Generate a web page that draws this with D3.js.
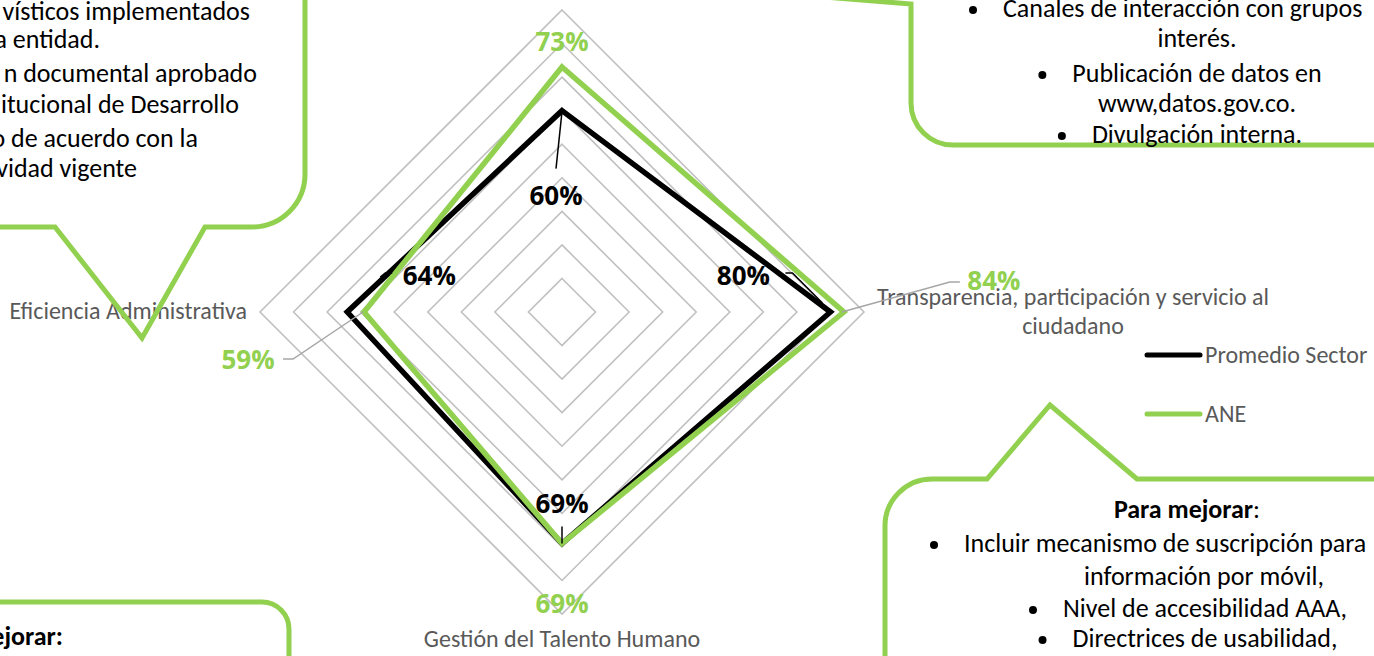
<!DOCTYPE html>
<html><head><meta charset="utf-8">
<script src="https://cdn.jsdelivr.net/npm/d3@7"></script>
<style>
html,body{margin:0;padding:0;background:#fff;overflow:hidden}
svg{display:block}
text{font-family: Carlito, Calibri, Lato, sans-serif}
text.dl{font-family: 'Open Sans', Lato, sans-serif; font-weight: bold; font-size: 26px}
</style></head><body>
<svg id="c" width="1374" height="656"></svg>
<script>
// ---------- data ----------
const categories = ["Gestión Misional y de Gobierno", "Transparencia, participación y servicio al ciudadano", "Gestión del Talento Humano", "Eficiencia Administrativa"];
const seriesNames = ["Promedio Sector", "ANE"];
const promedioSector = [0.60, 0.80, 0.69, 0.64];
const ane = [0.73, 0.84, 0.69, 0.59];
const ringTicks = [0.1, 0.2, 0.3, 0.4, 0.5, 0.6, 0.7, 0.8, 0.9];
const topLeftLines = ["vísticos implementados", "a entidad.", "n documental aprobado", "itucional de Desarrollo", "o de acuerdo con la", "vidad vigente"];
const topRightLines = ["Canales de interacción con grupos", "interés.", "Publicación de datos en", "www,datos.gov.co.", "Divulgación interna."];
const bottomRightTitle = ["Para mejorar", ":"];
const bottomRightLines = ["Incluir mecanismo de suscripción para", "información por móvil,", "Nivel de accesibilidad AAA,", "Directrices de usabilidad,"];
const bottomLeftTitle = "ejorar:";

// ---------- style ----------
const GREEN = "#92D050", GREY_TXT = "#595959", GRID = "#C0C0C0";
const svg = d3.select("#c");
const cx = 562, cy = 312, R = 302;
const r = d3.scaleLinear().domain([0, 0.9]).range([0, R]);
const ang = d3.scaleLinear().domain([0, categories.length]).range([0, 2 * Math.PI]);
const pt = (i, v) => [cx + r(v) * Math.sin(ang(i)), cy - r(v) * Math.cos(ang(i))];

const g = svg.append("g");
// grid rings
const ringLine = d3.lineRadial().angle((d, i) => ang(i)).radius(d => r(d)).curve(d3.curveLinearClosed);
g.selectAll("path.ring").data(ringTicks).join("path")
  .attr("class", "ring")
  .attr("transform", `translate(${cx},${cy})`)
  .attr("d", t => ringLine(categories.map(() => t)))
  .attr("fill", "none").attr("stroke", GRID).attr("stroke-width", 1.6);

// axis labels
const axisFont = 24;
const axLab = svg.append("g").attr("fill", GREY_TXT).style("font-size", axisFont + "px");
// top label (off canvas)
axLab.append("text").attr("x", cx).attr("y", -14).attr("text-anchor", "middle").text(categories[0]);
const tr = axLab.append("text").attr("text-anchor", "middle");
tr.append("tspan").attr("x", 1073).attr("y", 305).text("Transparencia, participación y servicio al");
tr.append("tspan").attr("x", 1073).attr("y", 334).text("ciudadano");
axLab.append("text").attr("x", cx).attr("y", 647).attr("text-anchor", "middle").text(categories[2]);
axLab.append("text").attr("x", 247).attr("y", 319).attr("text-anchor", "end").text(categories[3]);

// series
const seriesData = [promedioSector, ane];
const seriesColors = ["#000000", GREEN];
seriesData.forEach((vals, s) => {
  g.append("path")
    .attr("transform", `translate(${cx},${cy})`)
    .attr("d", ringLine.radius(d => r(d))(vals))
    .attr("fill", "none").attr("stroke", seriesColors[s]).attr("stroke-width", 5.5)
    .attr("stroke-linejoin", "miter");
});

// data labels: layout offsets (label anchor relative to point, leader polyline relative)
const labels = svg.append("g").attr("text-anchor", "middle");
const fmt = d3.format(".0%");
const blackLayout = [
  {dx: -6, dy: 94, leader: [[0, 1], [-6, 58]]},
  {dx: -87, dy: -27, leader: [[-45, -39], [-38, -39], [-8, -9]]},
  {dx: 0, dy: -31, leader: [[0, -17], [0, 0]]},
  {dx: 82, dy: -27.5, leader: [[33, -35], [38, -39], [45, -39]]}
];
const greenLayout = [
  {dx: 0, dy: -16, leader: null},
  {dx: 150, dy: -22, leader: [[-2, 0], [106, -30], [116, -30]]},
  {dx: 0, dy: 69, leader: null},
  {dx: -116, dy: 57, leader: [[-81, 47], [-71, 47], [-1, 0]]}
];
function drawLabels(vals, layout, color, leaderColor) {
  vals.forEach((v, i) => {
    const [x, y] = pt(i, v);
    const L = layout[i];
    if (L.leader) {
      svg.append("path").attr("d", d3.line()(L.leader.map(p => [x + p[0], y + p[1]])))
        .attr("fill", "none").attr("stroke", leaderColor).attr("stroke-width", 1.5);
    }
    labels.append("text").attr("class", "dl").attr("x", x + L.dx).attr("y", y + L.dy).attr("fill", color).text(fmt(v));
  });
}
drawLabels(promedioSector, blackLayout, "#000", "#000");
drawLabels(ane, greenLayout, GREEN, "#A6A6A6");

// legend
const leg = svg.append("g");
seriesNames.forEach((n, i) => {
  const y = 355 + i * 59;
  leg.append("line").attr("x1", 1147).attr("x2", 1200).attr("y1", y).attr("y2", y)
    .attr("stroke", seriesColors[i]).attr("stroke-width", 5).attr("stroke-linecap", "round");
  leg.append("text").attr("x", 1205).attr("y", y + 8).attr("fill", GREY_TXT).style("font-size", "24px").text(n);
});

// ---------- callouts ----------
const co = svg.append("g").attr("fill", "none").attr("stroke", GREEN).attr("stroke-width", 5).attr("stroke-linejoin", "miter");
// top-left
{
  const p = d3.path();
  p.moveTo(305, -20); p.lineTo(305, 227 - 53); p.arcTo(305, 227, 305 - 53, 227, 53);
  p.lineTo(205, 227); p.lineTo(142, 338); p.lineTo(55, 227); p.lineTo(-20, 227);
  co.append("path").attr("d", p.toString());
}
// top-right
{
  const p = d3.path();
  p.moveTo(700, -13); p.lineTo(911, 4); p.lineTo(911, 145 - 42); p.arcTo(911, 145, 911 + 42, 145, 42);
  p.lineTo(1400, 145);
  co.append("path").attr("d", p.toString());
}
// bottom-right
{
  const p = d3.path();
  p.moveTo(1400, 479); p.lineTo(1137, 479); p.lineTo(1050, 405); p.lineTo(987, 479);
  p.lineTo(885 + 47, 479); p.arcTo(885, 479, 885, 479 + 47, 47); p.lineTo(885, 700);
  co.append("path").attr("d", p.toString());
}
// bottom-left
{
  const p = d3.path();
  p.moveTo(-20, 602); p.lineTo(289 - 27, 602); p.arcTo(289, 602, 289, 602 + 27, 27); p.lineTo(289, 700);
  co.append("path").attr("d", p.toString());
}

// callout texts
const bodyFont = 26;
const ct = svg.append("g").attr("fill", "#000").style("font-size", bodyFont + "px");
const tlPos = [[250, 20], [100, 48], [257, 82], [239, 113], [198, 147], [137, 177]];
topLeftLines.forEach((t, i) => {
  ct.append("text").attr("x", tlPos[i][0]).attr("y", tlPos[i][1]).attr("text-anchor", "end").text(t);
});
function bullet(x, y) { ct.append("circle").attr("cx", x).attr("cy", y).attr("r", 4).attr("fill", "#000"); }
function line(t, mode, x, y, hasBullet) {
  const el = ct.append("text").attr("y", y).text(t);
  let start;
  if (mode === "start") { el.attr("x", x); start = x; }
  else { el.attr("x", x).attr("text-anchor", "middle"); start = x - el.node().getComputedTextLength() / 2; }
  if (hasBullet) bullet(start - 30, y - 7);
}
// top-right
const trMode = [["start", 1003, 17, true], ["middle", 1197, 47, false], ["middle", 1197, 82, true], ["middle", 1197, 112, false], ["middle", 1197, 143, true]];
topRightLines.forEach((t, i) => line(t, ...trMode[i]));
// bottom-right
{
  const title = ct.append("text").attr("x", 1187).attr("y", 518).attr("text-anchor", "middle");
  title.append("tspan").style("font-weight", "bold").text(bottomRightTitle[0]);
  title.append("tspan").text(bottomRightTitle[1]);
}
const brMode = [["start", 964, 552, true], ["middle", 1204, 585, false], ["middle", 1205, 617, true], ["middle", 1205, 647, true]];
bottomRightLines.forEach((t, i) => line(t, ...brMode[i]));
// bottom-left
ct.append("text").attr("x", 63).attr("y", 645).attr("text-anchor", "end").style("font-weight", "bold").text(bottomLeftTitle);
</script>
</body></html>
